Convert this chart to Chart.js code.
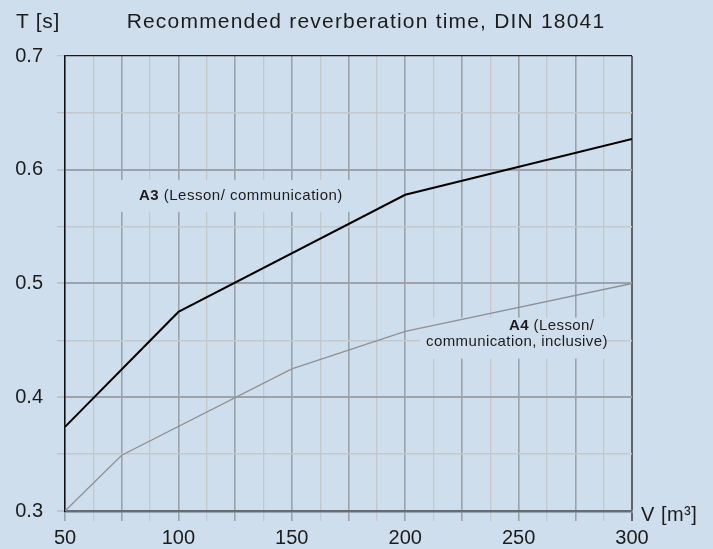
<!DOCTYPE html>
<html>
<head>
<meta charset="utf-8">
<script src="https://cdn.jsdelivr.net/npm/chart.js@4.4.0/dist/chart.umd.min.js"></script>
<style>
html, body { margin: 0; padding: 0; background: #cfdeec; }
#wrap { width: 713px; height: 549px; }
</style>
</head>
<body>
<div id="wrap"><canvas id="canvas1"></canvas></div>
<script>
// volumes in m3, reverberation time in s
var volA3 = [50, 100, 200, 300];
var timeA3 = [0.374, 0.475, 0.578, 0.627];
var volA4 = [50, 75, 150, 200, 300];
var timeA4 = [0.300, 0.349, 0.425, 0.458, 0.500];
var xTickLabels = [50, 100, 150, 200, 250, 300];
var yTickLabels = [0.3, 0.4, 0.5, 0.6, 0.7];

var FONT = '"Liberation Sans", Arial, sans-serif';
var TEXT = '#1c1c1c';
var BG = '#cfdeec';

function toPoints(xs, ys) {
    var pts = [];
    for (let i = 0; i < xs.length; i++) pts.push({x: xs[i], y: ys[i]});
    return pts;
}

function near(a, b) { return Math.abs(a - b) < 1e-6; }

function isMajorX(v) { return near(v % 25, 0); }
function isMajorY(v) { return near(v * 10, Math.round(v * 10)); }

var notes = {
    id: 'notes',
    beforeDatasetsDraw: function(chart) {
        var c = chart.ctx, xs = chart.scales.x, ys = chart.scales.y;
        c.save();
        c.fillStyle = BG;
        // A3 box
        var bx1 = xs.getPixelForValue(72), bx2 = xs.getPixelForValue(178);
        var by1 = ys.getPixelForValue(0.591), by2 = ys.getPixelForValue(0.563);
        c.fillRect(bx1, by1, bx2 - bx1, by2 - by1);
        // A4 box
        bx1 = xs.getPixelForValue(206.5); bx2 = xs.getPixelForValue(289);
        by1 = ys.getPixelForValue(0.470); by2 = ys.getPixelForValue(0.434);
        c.fillRect(bx1, by1, bx2 - bx1, by2 - by1);

        c.fillStyle = TEXT;
        c.textBaseline = 'middle';
        c.textAlign = 'left';
        c.letterSpacing = '0.5px';
        var x = xs.getPixelForValue(82.6), y = ys.getPixelForValue(0.577);
        c.font = 'bold 15px ' + FONT;
        c.fillText('A3', x, y);
        x += c.measureText('A3').width;
        c.font = '15px ' + FONT;
        c.fillText(' (Lesson/ communication)', x, y);

        c.letterSpacing = '0.4px';
        x = xs.getPixelForValue(245.8); y = ys.getPixelForValue(0.4625);
        c.font = 'bold 15px ' + FONT;
        c.fillText('A4', x, y);
        x += c.measureText('A4').width;
        c.font = '15px ' + FONT;
        c.fillText(' (Lesson/', x, y);
        x = xs.getPixelForValue(209.2); y = ys.getPixelForValue(0.4486);
        c.fillText('communication, inclusive)', x, y);
        c.restore();
    },
    afterDraw: function(chart) {
        var c = chart.ctx, xs = chart.scales.x, ys = chart.scales.y;
        c.save();
        c.fillStyle = TEXT;
        c.textBaseline = 'middle';
        c.font = '21px ' + FONT;
        c.letterSpacing = '0.6px';
        c.textAlign = 'left';
        c.fillText('T [s]', 16, 22);
        c.letterSpacing = '1.2px';
        c.textAlign = 'center';
        c.fillText('Recommended reverberation time, DIN 18041', 366, 22);
        c.letterSpacing = '0.5px';
        c.font = '20px ' + FONT;
        c.textAlign = 'left';
        c.fillText('V [m\u00b3]', xs.right + 9, ys.bottom + 4);
        c.restore();
    }
};

var myChart1 = new Chart(document.getElementById('canvas1'), {
    type: 'scatter',
    data: {
        datasets: [{
            label: 'A3',
            data: toPoints(volA3, timeA3),
            showLine: true,
            borderColor: '#000000',
            borderWidth: 2,
            pointRadius: 0
        }, {
            label: 'A4',
            data: toPoints(volA4, timeA4),
            showLine: true,
            borderColor: '#8d9196',
            borderWidth: 1.3,
            pointRadius: 0
        }]
    },
    options: {
        responsive: true,
        maintainAspectRatio: false,
        animation: false,
        layout: { padding: { top: 56, right: 81, left: 0, bottom: 0 } },
        plugins: {
            legend: { display: false },
            tooltip: { enabled: false }
        },
        scales: {
            x: {
                type: 'linear',
                min: 50,
                max: 300,
                afterFit: function(scale) { scale.height = 38; },
                ticks: {
                    stepSize: 12.5,
                    autoSkip: false,
                    maxRotation: 0,
                    padding: 5,
                    color: TEXT,
                    font: { family: FONT, size: 20 },
                    callback: function(v) {
                        return xTickLabels.indexOf(v) >= 0 ? String(v) : '';
                    }
                },
                grid: {
                    tickLength: 10,
                    color: function(ctx) {
                        var v = ctx.tick ? ctx.tick.value : 0;
                        if (near(v, 300)) return '#5d646b';
                        return isMajorX(v) ? '#9aa2aa' : '#c4c8cb';
                    },
                    lineWidth: function(ctx) {
                        var v = ctx.tick ? ctx.tick.value : 0;
                        if (near(v, 300)) return 2;
                        return isMajorX(v) ? 1.6 : 1.3;
                    }
                },
                border: { color: '#656c73', width: 2.5 }
            },
            y: {
                min: 0.3,
                max: 0.7,
                afterFit: function(scale) { scale.width = 65; },
                ticks: {
                    stepSize: 0.05,
                    autoSkip: false,
                    padding: 14,
                    color: TEXT,
                    font: { family: FONT, size: 20 },
                    callback: function(v) {
                        for (let i = 0; i < yTickLabels.length; i++) {
                            if (near(v, yTickLabels[i])) return yTickLabels[i].toFixed(1);
                        }
                        return '';
                    }
                },
                grid: {
                    tickLength: 8,
                    tickColor: '#bfc4c8',
                    color: function(ctx) {
                        var v = ctx.tick ? ctx.tick.value : 0;
                        if (near(v, 0.7)) return '#1a1a1a';
                        return isMajorY(v) ? '#9ca3aa' : '#c4c8cb';
                    },
                    lineWidth: function(ctx) {
                        var v = ctx.tick ? ctx.tick.value : 0;
                        if (near(v, 0.7)) return 1.2;
                        return isMajorY(v) ? 2 : 1.5;
                    }
                },
                border: { color: '#111111', width: 1.5 }
            }
        }
    },
    plugins: [notes]
});
</script>
</body>
</html>
